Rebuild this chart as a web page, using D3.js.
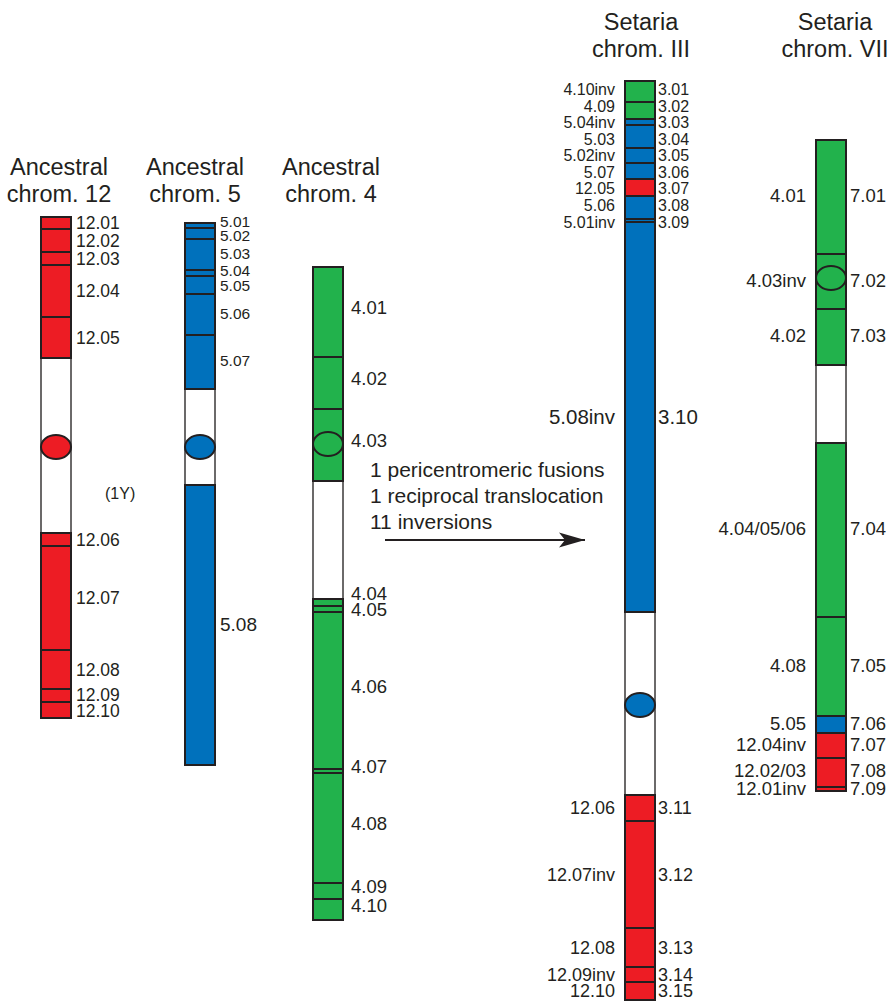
<!DOCTYPE html>
<html>
<head>
<meta charset="utf-8">
<script src="https://cdn.jsdelivr.net/npm/d3@7"></script>
<style>
  body { margin: 0; background: #fff; }
  svg { display: block; }
  text { font-family: "Liberation Sans", Arial, Helvetica, sans-serif; fill: #231F20; }
</style>
</head>
<body>
<svg id="chart" width="895" height="1003"></svg>
<script>
// Ancestral chromosome of origin -> band colour
const sources = ["12", "5", "4"];
const sourceColors = ["#ED1C24", "#0071BC", "#22B24C"];

// Bands listed from the top of each chromosome; `end` is the cumulative
// position (Mb) of the band's lower edge. src null = centromeric gap.
const anc12 = [
  { band: "12.01", src: "12", end: 2.4 },
  { band: "12.02", src: "12", end: 7.0 },
  { band: "12.03", src: "12", end: 9.6 },
  { band: "12.04", src: "12", end: 20.0 },
  { band: "12.05", src: "12", end: 28.2 },
  { band: null,    src: null, end: 63.2 },
  { band: "12.06", src: "12", end: 65.8 },
  { band: "12.07", src: "12", end: 86.6 },
  { band: "12.08", src: "12", end: 94.4 },
  { band: "12.09", src: "12", end: 97.0 },
  { band: "12.10", src: "12", end: 100.2 }
];
const anc12Centromere = { pos: 46.0, src: "12" };

const anc5 = [
  { band: "5.01", src: "5", end: 1.0 },
  { band: "5.02", src: "5", end: 3.2 },
  { band: "5.03", src: "5", end: 9.4 },
  { band: "5.04", src: "5", end: 10.6 },
  { band: "5.05", src: "5", end: 14.2 },
  { band: "5.06", src: "5", end: 22.4 },
  { band: "5.07", src: "5", end: 33.2 },
  { band: null,   src: null, end: 52.4 },
  { band: "5.08", src: "5", end: 108.4 }
];
const anc5Centromere = { pos: 44.8, src: "5" };

const anc4 = [
  { band: "4.01", src: "4", end: 18.0 },
  { band: "4.02", src: "4", end: 28.4 },
  { band: "4.03", src: "4", end: 42.8 },
  { band: null,   src: null, end: 66.4 },
  { band: "4.04", src: "4", end: 67.8 },
  { band: "4.05", src: "4", end: 69.0 },
  { band: "4.06", src: "4", end: 100.4 },
  { band: "4.07", src: "4", end: 101.2 },
  { band: "4.08", src: "4", end: 123.2 },
  { band: "4.09", src: "4", end: 126.4 },
  { band: "4.10", src: "4", end: 130.6 }
];
const anc4Centromere = { pos: 35.4, src: "4" };

// Setaria chromosomes: `band` is the Setaria band, `origin` the ancestral block
const setaria3 = [
  { band: "3.01", origin: "4.10inv",  src: "4",  end: 4.2 },
  { band: "3.02", origin: "4.09",     src: "4",  end: 7.6 },
  { band: "3.03", origin: "5.04inv",  src: "5",  end: 8.8 },
  { band: "3.04", origin: "5.03",     src: "5",  end: 13.4 },
  { band: "3.05", origin: "5.02inv",  src: "5",  end: 16.4 },
  { band: "3.06", origin: "5.07",     src: "5",  end: 19.6 },
  { band: "3.07", origin: "12.05",    src: "12", end: 23.0 },
  { band: "3.08", origin: "5.06",     src: "5",  end: 27.6 },
  { band: "3.09", origin: "5.01inv",  src: "5",  end: 28.2 },
  { band: "3.10", origin: "5.08inv",  src: "5",  end: 106.2 },
  { band: null,   origin: null,       src: null, end: 142.8 },
  { band: "3.11", origin: "12.06",    src: "12", end: 148.0 },
  { band: "3.12", origin: "12.07inv", src: "12", end: 169.4 },
  { band: "3.13", origin: "12.08",    src: "12", end: 177.2 },
  { band: "3.14", origin: "12.09inv", src: "12", end: 180.2 },
  { band: "3.15", origin: "12.10",    src: "12", end: 183.8 }
];
const setaria3Centromere = { pos: 124.8, src: "5" };

const setaria7 = [
  { band: "7.01", origin: "4.01",       src: "4",  end: 22.8 },
  { band: "7.02", origin: "4.03inv",    src: "4",  end: 33.8 },
  { band: "7.03", origin: "4.02",       src: "4",  end: 45.0 },
  { band: null,   origin: null,         src: null, end: 60.6 },
  { band: "7.04", origin: "4.04/05/06", src: "4",  end: 95.4 },
  { band: "7.05", origin: "4.08",       src: "4",  end: 115.2 },
  { band: "7.06", origin: "5.05",       src: "5",  end: 118.6 },
  { band: "7.07", origin: "12.04inv",   src: "12", end: 123.6 },
  { band: "7.08", origin: "12.02/03",   src: "12", end: 129.4 },
  { band: "7.09", origin: "12.01inv",   src: "12", end: 130.2 }
];
const setaria7Centromere = { pos: 27.6, src: "4" };

const titles = {
  anc12: ["Ancestral", "chrom. 12"],
  anc5: ["Ancestral", "chrom. 5"],
  anc4: ["Ancestral", "chrom. 4"],
  set3: ["Setaria", "chrom. III"],
  set7: ["Setaria", "chrom. VII"]
};
const rearrangements = ["1 pericentromeric fusions", "1 reciprocal translocation", "11 inversions"];
const note1Y = "(1Y)";

// ---------------------------------------------------------------- layout
const PX_PER_MB = 5;
const CHROM_W = 30;
const LONG_BAND_PX = 250;   // bands this long get a larger label
const INK = "#231F20";
const color = d3.scaleOrdinal().domain(sources).range(sourceColors);

const layout = {
  anc12: { x: 41,  top: 217, titleX: 59,  titleY: 167, fs: 17.5, gap: 16.5, dx: 5, dy: 0 },
  anc5:  { x: 185, top: 223, titleX: 195, titleY: 167, fs: 15.5, gap: 14.5, dx: 5, dy: -1, fsLong: 19 },
  anc4:  { x: 313, top: 267, titleX: 331, titleY: 167, fs: 18.5, gap: 16,   dx: 8, dy: -4 },
  set3:  { x: 625, top: 81,  titleX: 641, titleY: 22,  fs: 18, fsCompact: 16, compactBands: 9, fsLong: 20.5, gap: 16.5, dx: 3, dy: 0 },
  set7:  { x: 816, top: 140, titleX: 835, titleY: 22,  fs: 18.5, gap: 17.5, dx: 4, dy: -1 }
};

const svg = d3.select("#chart");

// Push overlapping label positions apart until neighbours are >= gap apart
function spreadLabels(ys, gap) {
  const out = ys.slice();
  for (let it = 0; it < 200; it++) {
    let moved = false;
    for (let i = 1; i < out.length; i++) {
      const d = out[i] - out[i - 1];
      if (d < gap - 0.01) {
        const s = (gap - d) / 2;
        out[i - 1] -= s;
        out[i] += s;
        moved = true;
      }
    }
    if (!moved) break;
  }
  return out;
}

function drawChromosome(key, bands, centromere, twoSided) {
  const L = layout[key];
  const total = bands[bands.length - 1].end;
  const y = d3.scaleLinear().domain([0, total]).range([L.top, L.top + total * PX_PER_MB]);
  const g = svg.append("g").attr("class", "chrom " + key);

  const segs = bands.map((b, i) => ({ ...b, start: i ? bands[i - 1].end : 0, idx: i }));

  // centromeric gap first (thin grey outline), then coloured bands on top
  g.selectAll("rect.gap")
    .data(segs.filter(s => !s.src))
    .join("rect")
    .attr("class", "gap")
    .attr("x", L.x).attr("width", CHROM_W)
    .attr("y", d => y(d.start)).attr("height", d => y(d.end) - y(d.start))
    .attr("fill", "#fff").attr("stroke", "#3b3838").attr("stroke-width", 1.5);

  g.selectAll("rect.band")
    .data(segs.filter(s => s.src))
    .join("rect")
    .attr("class", "band")
    .attr("x", L.x).attr("width", CHROM_W)
    .attr("y", d => y(d.start)).attr("height", d => y(d.end) - y(d.start))
    .attr("fill", d => color(d.src))
    .attr("stroke", INK).attr("stroke-width", 2);

  // centromere
  g.append("ellipse")
    .attr("cx", L.x + CHROM_W / 2).attr("cy", y(centromere.pos))
    .attr("rx", CHROM_W / 2).attr("ry", 12)
    .attr("fill", color(centromere.src))
    .attr("stroke", INK).attr("stroke-width", 2);

  // band labels
  const labelled = segs.filter(s => s.band);
  const mids = labelled.map(s => y((s.start + s.end) / 2) + L.dy);
  const ys = spreadLabels(mids, L.gap);
  const fsOf = s => {
    if (L.fsLong && y(s.end) - y(s.start) > LONG_BAND_PX) return L.fsLong;
    if (L.compactBands && s.idx < L.compactBands) return L.fsCompact;
    return L.fs;
  };

  g.selectAll("text.right")
    .data(labelled)
    .join("text")
    .attr("class", "right")
    .attr("x", L.x + CHROM_W + L.dx)
    .attr("y", (d, i) => ys[i])
    .attr("dy", "0.35em")
    .style("font-size", d => fsOf(d) + "px")
    .text(d => d.band);

  if (twoSided) {
    g.selectAll("text.left")
      .data(labelled)
      .join("text")
      .attr("class", "left")
      .attr("x", L.x - 10)
      .attr("y", (d, i) => ys[i])
      .attr("dy", "0.35em")
      .attr("text-anchor", "end")
      .style("font-size", d => fsOf(d) + "px")
      .text(d => d.origin);
  }

  // title
  const t = svg.append("text")
    .attr("text-anchor", "middle")
    .style("font-size", "23.5px");
  titles[key].forEach((line, i) => {
    t.append("tspan")
      .attr("x", L.titleX)
      .attr("y", L.titleY + i * 27)
      .attr("dy", "0.35em")
      .text(line);
  });
}

drawChromosome("anc12", anc12, anc12Centromere, false);
drawChromosome("anc5", anc5, anc5Centromere, false);
drawChromosome("anc4", anc4, anc4Centromere, false);
drawChromosome("set3", setaria3, setaria3Centromere, true);
drawChromosome("set7", setaria7, setaria7Centromere, true);

// "(1Y)" note beside chromosome 12
svg.append("text")
  .attr("x", 105).attr("y", 493).attr("dy", "0.35em")
  .style("font-size", "16px")
  .text(note1Y);

// rearrangement summary and arrow
const note = svg.append("text").style("font-size", "21px");
rearrangements.forEach((line, i) => {
  note.append("tspan")
    .attr("x", 370).attr("y", 470 + i * 26).attr("dy", "0.35em")
    .text(line);
});

svg.append("defs").append("marker")
  .attr("id", "head")
  .attr("viewBox", "0 0 26 16")
  .attr("refX", 26).attr("refY", 8)
  .attr("markerUnits", "userSpaceOnUse")
  .attr("markerWidth", 26).attr("markerHeight", 16)
  .attr("orient", "auto")
  .append("path")
  .attr("d", "M0,0.5 L26,8 L0,15.5 L6,8 Z")
  .attr("fill", INK);

svg.append("line")
  .attr("x1", 385).attr("y1", 540).attr("x2", 585).attr("y2", 540)
  .attr("stroke", INK).attr("stroke-width", 2)
  .attr("marker-end", "url(#head)");
</script>
</body>
</html>
